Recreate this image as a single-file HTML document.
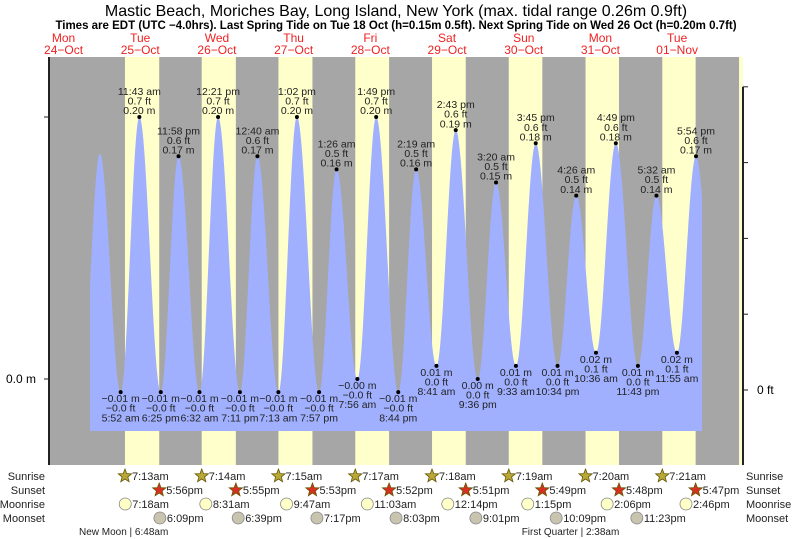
<!DOCTYPE html>
<html><head><meta charset="utf-8"><style>
html,body{margin:0;padding:0;background:#fff}
svg{display:block;font-family:"Liberation Sans",sans-serif}
</style></head><body>
<svg id="chart" width="793" height="539" viewBox="0 0 793 539" xmlns="http://www.w3.org/2000/svg">
<text x="396" y="16" text-anchor="middle" font-size="16" fill="#000">Mastic Beach, Moriches Bay, Long Island, New York (max. tidal range 0.26m 0.9ft)</text>
<text x="396" y="29" text-anchor="middle" font-size="11.5" font-weight="bold" fill="#000">Times are EDT (UTC −4.0hrs). Last Spring Tide on Tue 18 Oct (h=0.15m 0.5ft). Next Spring Tide on Wed 26 Oct (h=0.20m 0.7ft)</text>
<g id="plot"></g>
</svg>
<script>
// ---- data ----
const dayNames = ["Mon","Tue","Wed","Thu","Fri","Sat","Sun","Mon","Tue"];
const dayDates = ["24\u2212Oct","25\u2212Oct","26\u2212Oct","27\u2212Oct","28\u2212Oct","29\u2212Oct","30\u2212Oct","31\u2212Oct","01\u2212Nov"];
// tide extremes: hours since Mon 24-Oct 00:00, height in m
const tideHours = [17.6,23.35,29.87,35.72,42.42,47.97,54.53,60.35,67.18,72.67,79.22,85.02,91.95,97.43,103.93,109.82,116.73,122.32,128.68,134.72,141.6,147.33,153.55,159.75,166.57,172.43,178.6,184.82,191.72,197.53,203.92,209.9,216.5];
const tideMeters = [-0.01,0.172,-0.01,0.20,-0.01,0.17,-0.01,0.20,-0.01,0.17,-0.01,0.20,-0.01,0.16,-0.00,0.20,-0.01,0.16,0.01,0.19,0.00,0.15,0.01,0.18,0.01,0.14,0.02,0.18,0.01,0.14,0.02,0.17,0.0];
const tideFeet = ["","","−0.0","0.7","−0.0","0.6","−0.0","0.7","−0.0","0.6","−0.0","0.7","−0.0","0.5","−0.0","0.7","−0.0","0.5","0.0","0.6","0.0","0.5","0.0","0.6","0.0","0.5","0.1","0.6","0.0","0.5","0.1","0.6",""];
const tideLabels = ["","","5:52 am","11:43 am","6:25 pm","11:58 pm","6:32 am","12:21 pm","7:11 pm","12:40 am","7:13 am","1:02 pm","7:57 pm","1:26 am","7:56 am","1:49 pm","8:44 pm","2:19 am","8:41 am","2:43 pm","9:36 pm","3:20 am","9:33 am","3:45 pm","10:34 pm","4:26 am","10:36 am","4:49 pm","11:43 pm","5:32 am","11:55 am","5:54 pm",""];
const tideMLabels = ["","","−0.01","0.20","−0.01","0.17","−0.01","0.20","−0.01","0.17","−0.01","0.20","−0.01","0.16","−0.00","0.20","−0.01","0.16","0.01","0.19","0.00","0.15","0.01","0.18","0.01","0.14","0.02","0.18","0.01","0.14","0.02","0.17",""];
const dataStart = 20.3, dataEnd = 211.8;
const sunrise = ["7:13am","7:14am","7:15am","7:17am","7:18am","7:19am","7:20am","7:21am"];
const sunset = ["5:56pm","5:55pm","5:53pm","5:52pm","5:51pm","5:49pm","5:48pm","5:47pm"];
const nextSunrise = "7:22am";
const moonrise = ["7:18am","8:31am","9:47am","11:03am","12:14pm","1:15pm","2:06pm","2:46pm"];
const moonset = ["6:09pm","6:39pm","7:17pm","8:03pm","9:01pm","10:09pm","11:23pm"];
const phases = [["New Moon","6:48am",1],["First Quarter","2:38am",7]];

// ---- scales ----
const PX0=25.2, PXH=76.7/24, L=49, R=743, T=57, B=465;
const x = h => PX0 + h*PXH;
const yM = m => 379 - m*1310;
const yFt = f => 390 - f*379;
const NS="http://www.w3.org/2000/svg";
const g=document.getElementById('plot');
function mk(tag,attrs,parent){const e=document.createElementNS(NS,tag);for(const k in attrs)e.setAttribute(k,attrs[k]);(parent||g).appendChild(e);return e;}
function tm(s){let m=s.match(/(\d+):(\d+)\s*(am|pm)/);let h=+m[1]%12+ +m[2]/60;if(m[3]=="pm")h+=12;return h;}

// background
let bg=mk('rect',{x:L,y:T,width:R-L,height:B-T,fill:'#a6a6a6'});


for(let d=1;d<=sunrise.length;d++){
  const x1=Math.max(L,x(24*d+tm(sunrise[d-1]))), x2=Math.min(R,x(24*d+tm(sunset[d-1])));
  let r=mk('rect',{x:x1,y:T,width:x2-x1,height:B-T,fill:'#ffffcc'});
  
  
}
{
  const x1=x(24*(sunrise.length+1)+tm(nextSunrise));
  let r=mk('rect',{x:x1,y:T,width:Math.max(0,R-x1),height:B-T,fill:'#ffffcc'});
  
  
}
// tide curve
function level(h){
  for(let i=0;i<tideHours.length-1;i++){
    if(h>=tideHours[i]&&h<=tideHours[i+1]){
      const f=(h-tideHours[i])/(tideHours[i+1]-tideHours[i]);
      const a=tideMeters[i], b=tideMeters[i+1];
      return a+(b-a)*(1-Math.cos(Math.PI*f))/2;
    }
  }
  return 0;
}
let d=`M${x(dataStart)},431`;
for(let h=dataStart;h<=dataEnd;h+=0.1) d+=`L${x(h).toFixed(2)},${yM(level(h)).toFixed(2)}`;
d+=`L${x(dataEnd)},431Z`;
let area=mk('path',{d:d,fill:'#a0b0ff'});



// extremes labels
for(let i=0;i<tideHours.length;i++){
  if(!tideLabels[i]) continue;
  const cx=x(tideHours[i]), cy=yM(tideMeters[i]);
  const high = tideMeters[i]>0.08;
  let dot=mk('circle',{cx:cx,cy:cy,r:2,fill:'#000'});
  
  
  const lines = high ? [tideLabels[i],tideFeet[i]+" ft",tideMLabels[i]+" m"] : [tideMLabels[i]+" m",tideFeet[i]+" ft",tideLabels[i]];
  const base = high ? cy-22 : cy+10;
  lines.forEach((s,k)=>{
    let t=mk('text',{x:cx,y:base+k*9.6,'text-anchor':'middle','font-size':'10.5',fill:'#222'});
    t.textContent=s;
    
    
  });
}
// axes
let la=mk('line',{x1:L,y1:T,x2:L,y2:B,stroke:'#222','stroke-width':2});


[0,0.2].forEach(v=>{let t=mk('line',{x1:L-5,y1:yM(v),x2:L,y2:yM(v),stroke:'#222'});

});
let ll=mk('text',{x:36,y:yM(0)+4,'text-anchor':'end','font-size':'12',fill:'#000'});ll.textContent="0.0 m";


let ra=mk('line',{x1:R,y1:yFt(0.8),x2:R,y2:B,stroke:'#222','stroke-width':2});


[0,0.2,0.4,0.6,0.8].forEach(v=>{let t=mk('line',{x1:R,y1:yFt(v),x2:R+5,y2:yFt(v),stroke:'#222'});

});
let rl=mk('text',{x:757,y:yFt(0)+4,'font-size':'12',fill:'#000'});rl.textContent="0 ft";



// day labels
dayNames.forEach((n,i)=>{
  const cx=x(24*i+12);
  let a=mk('text',{x:cx,y:42,'text-anchor':'middle','font-size':'12',fill:'#ee2222'});a.textContent=n;
  
  
  let b=mk('text',{x:cx,y:54,'text-anchor':'middle','font-size':'12',fill:'#ee2222'});b.textContent=dayDates[i];
  
  
});

// row labels
const rows=[["Sunrise",480],["Sunset",494],["Moonrise",508],["Moonset",522]];
rows.forEach(([n,yy])=>{
  let a=mk('text',{x:45,y:yy,'text-anchor':'end','font-size':'11',fill:'#222'});a.textContent=n;
  
  
  let b=mk('text',{x:746,y:yy,'font-size':'11',fill:'#222'});b.textContent=n;
  
  
});
function star(cx,cy,fill){
  let p="";for(let k=0;k<10;k++){const r=k%2?3:7,a=-Math.PI/2+k*Math.PI/5;p+=(cx+r*Math.cos(a)).toFixed(1)+","+(cy+r*Math.sin(a)).toFixed(1)+" ";}
  return mk('polygon',{points:p,fill:fill,stroke:'#665500','stroke-width':0.8});
}
function evt(list,row,kind){
  list.forEach((s,i)=>{
    const h=24*(i+1)+tm(s), cx=x(h);
    const cy=rows[row][1]-4;
    let ic;
    if(kind=='sunrise') ic=star(cx,cy,'#b8a83a');
    else if(kind=='sunset') ic=star(cx,cy,'#d83020');
    else ic=mk('circle',{cx:cx,cy:cy,r:6,fill:kind=='moonrise'?'#ffffc8':'#c8c4b0',stroke:'#888','stroke-width':0.8});
    
    
    let t=mk('text',{x:cx+7,y:rows[row][1],'font-size':'11',fill:'#222'});t.textContent=s;
    
    
  });
}
evt(sunrise,0,'sunrise');evt(sunset,1,'sunset');evt(moonrise,2,'moonrise');evt(moonset,3,'moonset');
phases.forEach(([n,s,day])=>{
  let t=mk('text',{x:x(24*day+tm(s)),y:535,'text-anchor':'middle','font-size':'10',fill:'#222'});
  t.textContent=n+" | "+s;
  
  
});
</script>
</body></html>
